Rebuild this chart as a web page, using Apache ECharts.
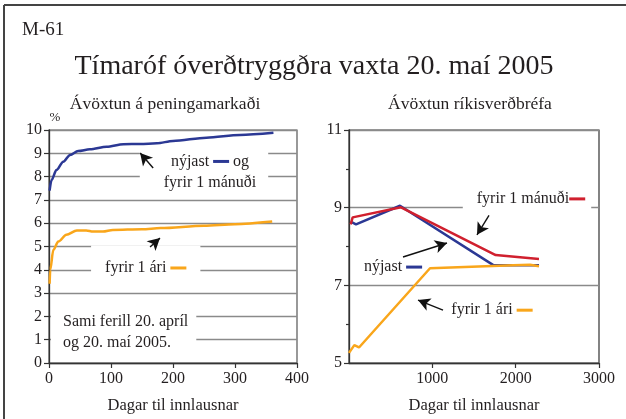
<!DOCTYPE html>
<html>
<head>
<meta charset="utf-8">
<script src="https://cdn.jsdelivr.net/npm/echarts@6/dist/echarts.min.js"></script>
<style>
  html, body { margin: 0; padding: 0; background: #fff; }
  #main { width: 626px; height: 419px; }
</style>
</head>
<body>
<div id="main"></div>
<script>
// Peningamarkaður: dagar til innlausnar og ávöxtun (%)
const mmDaysNew = [1, 4, 12, 23, 34, 47, 66, 93, 120, 147, 174, 200, 254, 308, 362];
const mmNew     = [7.40, 7.85, 8.28, 8.64, 8.93, 9.10, 9.17, 9.28, 9.39, 9.40, 9.43, 9.53, 9.67, 9.79, 9.88];
const mmDaysYear = [1, 2, 7, 15, 28, 45, 60, 71, 87, 103, 150, 180, 250, 300, 360];
const mmYear     = [3.40, 4.00, 4.86, 5.21, 5.50, 5.69, 5.69, 5.64, 5.64, 5.71, 5.74, 5.79, 5.89, 5.96, 6.07];

// Ríkisverðbréf: dagar til innlausnar og ávöxtun (%)
const govDaysNew   = [20, 84, 612, 1732, 2280];
const govNew       = [8.64, 8.57, 9.05, 7.52, 7.52];
const govDaysMonth = [20, 44, 624, 1760, 2280];
const govMonth     = [8.57, 8.75, 9.01, 7.78, 7.68];
const govDaysYear  = [0, 64, 120, 972, 1972, 2172, 2280];
const govYear      = [5.26, 5.46, 5.40, 7.44, 7.52, 7.53, 7.49];

// Ásar
const mmXTicks = { min: 0, max: 400, interval: 100 };
const mmYTicks = { min: 0, max: 10, interval: 1 };
const govXTicks = { min: 0, max: 3000, interval: 1000 };
const govYTicks = { min: 5, max: 11, interval: 2 };

const BLUE = '#2b3894';
const RED = '#d0202e';
const ORANGE = '#f9a61b';
const INK = '#231f20';
const SERIF = '"Liberation Serif", "DejaVu Serif", serif';

const pairs = (xs, ys) => xs.map((x, i) => [x, ys[i]]);
const plain = v => String(v);

function xAxisOf(gridIndex, t, extra) {
  return Object.assign({
    type: 'value', gridIndex: gridIndex,
    min: t.min, max: t.max, interval: t.interval,
    axisLine: { show: true, onZero: false, lineStyle: { color: '#333', width: 1.3 } },
    axisTick: { show: true, length: 5, lineStyle: { color: '#333', width: 1.2 } },
    axisLabel: { color: INK, fontFamily: SERIF, fontSize: 16, margin: 8, formatter: plain },
    splitLine: { show: false },
    name: 'Dagar til innlausnar', nameLocation: 'middle', nameGap: 34,
    nameTextStyle: { color: INK, fontFamily: SERIF, fontSize: 16.5 }
  }, extra || {});
}

function yAxisOf(gridIndex, t, extra) {
  return Object.assign({
    type: 'value', gridIndex: gridIndex,
    min: t.min, max: t.max, interval: t.interval,
    axisLine: { show: true, onZero: false, lineStyle: { color: '#333', width: 1.3 } },
    axisTick: { show: true, length: 5, lineStyle: { color: '#333', width: 1.2 } },
    axisLabel: { color: INK, fontFamily: SERIF, fontSize: 16, margin: 7, formatter: plain },
    splitLine: { show: true, lineStyle: { color: '#8a8a8a', width: 1.3 } }
  }, extra || {});
}

function arrow(from, to) {
  return [{ coord: from }, { coord: to }];
}

const arrowStyle = {
  silent: true, animation: false,
  symbol: ['none', 'arrow'], symbolSize: [10, 12],
  label: { show: false },
  lineStyle: { color: '#111', width: 1.4, type: 'solid' },
  emphasis: { disabled: true }
};

const chart = echarts.init(document.getElementById('main'), null, { renderer: 'canvas' });

chart.setOption({
  animation: false,
  backgroundColor: '#fff',
  grid: [
    { left: 49, top: 130, width: 248, height: 233, show: true, borderColor: '#555', borderWidth: 1.2 },
    { left: 349, top: 130, width: 250, height: 233, show: true, borderColor: '#333', borderWidth: 1.2 }
  ],
  xAxis: [
    xAxisOf(0, mmXTicks),
    xAxisOf(1, govXTicks, { axisLabel: { color: INK, fontFamily: SERIF, fontSize: 16, margin: 8, showMinLabel: false, formatter: plain } })
  ],
  yAxis: [
    yAxisOf(0, mmYTicks),
    yAxisOf(1, govYTicks, {
      minorTick: { show: true, splitNumber: 2, length: 3, lineStyle: { color: '#333', width: 1.2 } }
    })
  ],
  series: [
    {
      type: 'line', xAxisIndex: 0, yAxisIndex: 0, name: 'nýjast',
      data: pairs(mmDaysNew, mmNew), showSymbol: false, smooth: 0.3, smoothMonotone: 'x',
      lineStyle: { color: BLUE, width: 2.5 }, z: 3,
      markLine: Object.assign({}, arrowStyle, { data: [arrow([168, 8.37], [147, 9.01])] })
    },
    {
      type: 'line', xAxisIndex: 0, yAxisIndex: 0, name: 'fyrir 1 ári',
      data: pairs(mmDaysYear, mmYear), showSymbol: false, smooth: 0.3, smoothMonotone: 'x',
      lineStyle: { color: ORANGE, width: 2.5 }, z: 3,
      markLine: Object.assign({}, arrowStyle, { data: [arrow([163, 4.98], [179, 5.36])] })
    },
    {
      type: 'line', xAxisIndex: 1, yAxisIndex: 1, name: 'nýjast',
      data: pairs(govDaysNew, govNew), showSymbol: false,
      lineStyle: { color: BLUE, width: 2.5 }, z: 3,
      markLine: Object.assign({}, arrowStyle, { data: [arrow([648, 7.73], [1176, 8.09])] })
    },
    {
      type: 'line', xAxisIndex: 1, yAxisIndex: 1, name: 'fyrir 1 mánuði',
      data: pairs(govDaysMonth, govMonth), showSymbol: false,
      lineStyle: { color: RED, width: 2.5 }, z: 3,
      markLine: Object.assign({}, arrowStyle, { data: [arrow([1680, 8.80], [1536, 8.30])] })
    },
    {
      type: 'line', xAxisIndex: 1, yAxisIndex: 1, name: 'fyrir 1 ári',
      data: pairs(govDaysYear, govYear), showSymbol: false,
      lineStyle: { color: ORANGE, width: 2.5 }, z: 3,
      markLine: Object.assign({}, arrowStyle, { data: [arrow([1128, 6.36], [828, 6.62])] })
    }
  ]
});

// Skýringartextar, staðsettir í hnitum ásanna; hvítur bakgrunnur rofnar hnitalínur
const dash = c => ({ width: 16, height: 3, backgroundColor: c, verticalAlign: 'middle' });
const rich = {
  b: dash(BLUE), r: dash(RED), o: dash(ORANGE),
  t: { fontFamily: SERIF, fontSize: 16, color: INK }
};

function note(gridIndex, at, text, opts) {
  const p = chart.convertToPixel({ gridIndex: gridIndex }, at);
  return {
    type: 'text', x: p[0], y: p[1], z: 1,
    style: Object.assign({
      text: text, rich: rich,
      font: '16px ' + SERIF, fill: INK,
      align: 'center', verticalAlign: 'middle', lineHeight: 21
    }, opts || {})
  };
}

const titleFont = (s) => s + 'px ' + SERIF;

chart.setOption({
  graphic: [
    { type: 'line', shape: { x1: 4, y1: 5, x2: 626, y2: 5 }, style: { stroke: '#444', lineWidth: 2 } },
    { type: 'line', shape: { x1: 4, y1: 5, x2: 4, y2: 419 }, style: { stroke: '#444', lineWidth: 2 } },
    { type: 'text', x: 22, y: 30, style: { text: 'M-61', font: titleFont(19), fill: INK, verticalAlign: 'middle' } },
    { type: 'text', x: 314, y: 67, style: { text: 'Tímaróf óverðtryggðra vaxta 20. maí 2005', font: titleFont(28), fill: INK, align: 'center', verticalAlign: 'middle' } },
    { type: 'text', x: 165, y: 104, style: { text: 'Ávöxtun á peningamarkaði', font: titleFont(17.5), fill: INK, align: 'center', verticalAlign: 'middle' } },
    { type: 'text', x: 470, y: 104, style: { text: 'Ávöxtun ríkisverðbréfa', font: titleFont(17.5), fill: INK, align: 'center', verticalAlign: 'middle' } },
    { type: 'text', x: 55, y: 118, style: { text: '%', font: titleFont(13), fill: INK, align: 'center', verticalAlign: 'middle' } },

    note(0, [250, 8.2], '{t|nýjast} {b|} {t|og}\n{t|fyrir 1 mánuði}', { backgroundColor: '#fff', padding: [3, 12, 3, 24] }),
    note(0, [156, 4.25], '{t|fyrir 1 ári} {o|}', { backgroundColor: '#fff', padding: [12, 14, 4, 14] }),
    note(0, [3.2, 1.31], 'Sami ferill 20. apríl\nog 20. maí 2005.', { align: 'left', backgroundColor: '#fff', padding: [6, 8, 6, 12] }),

    note(1, [2136, 9.2], '{t|fyrir 1 mánuði}{r|}', { backgroundColor: '#fff', padding: [2, 6, 4, 14] }),
    note(1, [528, 7.47], '{t|nýjast} {b|}'),
    note(1, [1716, 6.36], '{t|fyrir 1 ári} {o|}')
  ]
});
</script>
</body>
</html>
